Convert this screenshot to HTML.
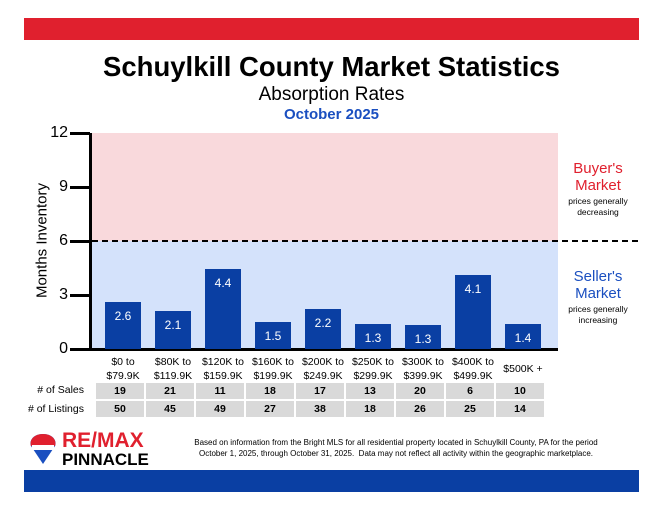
<!DOCTYPE html><html><head><style>
body{margin:0;width:663px;height:512px;background:#fff;font-family:"Liberation Sans",sans-serif;position:relative;overflow:hidden}
.a{position:absolute}
.bar{position:absolute;background:#0a3fa3;width:36px;color:#fff;font-size:12px;text-align:center;padding-top:7px;box-sizing:border-box}
.lb{position:absolute;width:56px;text-align:center;font-size:10.5px;line-height:14px}
.c{position:absolute;width:48px;height:16px;background:#d9d9d9;font-size:10.5px;font-weight:bold;text-align:center;line-height:16px}
</style></head><body>
<div class="a" style="left:24px;top:18px;width:615px;height:22px;background:#e0202e"></div>
<div class="a" style="left:0;width:663px;top:51px;text-align:center;font-size:27.5px;font-weight:bold">Schuylkill County Market Statistics</div>
<div class="a" style="left:0;width:663px;top:84px;text-align:center;font-size:19px">Absorption Rates</div>
<div class="a" style="left:0;width:663px;top:106px;text-align:center;font-size:15px;font-weight:bold;color:#1a4fc0">October 2025</div>
<div class="a" style="left:92px;top:133px;width:466px;height:108px;background:#f9d9dc"></div>
<div class="a" style="left:92px;top:241px;width:466px;height:108px;background:#d4e2fb"></div>
<div class="a" style="left:92px;top:240px;width:546px;border-top:2px dashed #000"></div>
<div class="a" style="left:89px;top:133px;width:3px;height:218px;background:#000"></div>
<div class="a" style="left:70px;top:348px;width:488px;height:3px;background:#000"></div>
<div class="a" style="left:70px;top:132px;width:20px;height:3px;background:#000"></div>
<div class="a" style="left:70px;top:186px;width:20px;height:3px;background:#000"></div>
<div class="a" style="left:70px;top:240px;width:20px;height:3px;background:#000"></div>
<div class="a" style="left:70px;top:294px;width:20px;height:3px;background:#000"></div>
<div class="a" style="left:46px;top:124px;width:22px;text-align:right;font-size:16px">12</div>
<div class="a" style="left:46px;top:178px;width:22px;text-align:right;font-size:16px">9</div>
<div class="a" style="left:46px;top:232px;width:22px;text-align:right;font-size:16px">6</div>
<div class="a" style="left:46px;top:286px;width:22px;text-align:right;font-size:16px">3</div>
<div class="a" style="left:46px;top:340px;width:22px;text-align:right;font-size:16px">0</div>
<div class="a" style="left:-18px;top:232px;width:120px;text-align:center;font-size:15px;transform:rotate(-90deg)">Months Inventory</div>
<div class="bar" style="left:105px;top:302px;height:47px">2.6</div>
<div class="bar" style="left:155px;top:311px;height:38px">2.1</div>
<div class="bar" style="left:205px;top:269px;height:80px">4.4</div>
<div class="bar" style="left:255px;top:322px;height:27px">1.5</div>
<div class="bar" style="left:305px;top:309px;height:40px">2.2</div>
<div class="bar" style="left:355px;top:324px;height:25px">1.3</div>
<div class="bar" style="left:405px;top:325px;height:24px">1.3</div>
<div class="bar" style="left:455px;top:275px;height:74px">4.1</div>
<div class="bar" style="left:505px;top:324px;height:25px">1.4</div>
<div class="lb" style="left:95px;top:355px">$0 to<br>$79.9K</div>
<div class="lb" style="left:145px;top:355px">$80K to<br>$119.9K</div>
<div class="lb" style="left:195px;top:355px">$120K to<br>$159.9K</div>
<div class="lb" style="left:245px;top:355px">$160K to<br>$199.9K</div>
<div class="lb" style="left:295px;top:355px">$200K to<br>$249.9K</div>
<div class="lb" style="left:345px;top:355px">$250K to<br>$299.9K</div>
<div class="lb" style="left:395px;top:355px">$300K to<br>$399.9K</div>
<div class="lb" style="left:445px;top:355px">$400K to<br>$499.9K</div>
<div class="lb" style="left:495px;top:362px">$500K +</div>
<div class="a" style="left:20px;top:384px;width:64px;text-align:right;font-size:10.5px">#&nbsp;of Sales</div>
<div class="a" style="left:10px;top:403px;width:74px;text-align:right;font-size:10.5px"># of Listings</div>
<div class="c" style="left:96px;top:383px">19</div><div class="c" style="left:146px;top:383px">21</div><div class="c" style="left:196px;top:383px">11</div><div class="c" style="left:246px;top:383px">18</div><div class="c" style="left:296px;top:383px">17</div><div class="c" style="left:346px;top:383px">13</div><div class="c" style="left:396px;top:383px">20</div><div class="c" style="left:446px;top:383px">6</div><div class="c" style="left:496px;top:383px">10</div>
<div class="c" style="left:96px;top:401px">50</div><div class="c" style="left:146px;top:401px">45</div><div class="c" style="left:196px;top:401px">49</div><div class="c" style="left:246px;top:401px">27</div><div class="c" style="left:296px;top:401px">38</div><div class="c" style="left:346px;top:401px">18</div><div class="c" style="left:396px;top:401px">26</div><div class="c" style="left:446px;top:401px">25</div><div class="c" style="left:496px;top:401px">14</div>
<div class="a" style="left:558px;top:160px;width:80px;text-align:center;color:#e0202e;font-size:15px;line-height:17px">Buyer's<br>Market</div>
<div class="a" style="left:558px;top:196px;width:80px;text-align:center;font-size:8.5px;line-height:11px">prices generally<br>decreasing</div>
<div class="a" style="left:558px;top:268px;width:80px;text-align:center;color:#1a4fc0;font-size:15px;line-height:17px">Seller's<br>Market</div>
<div class="a" style="left:558px;top:304px;width:80px;text-align:center;font-size:8.5px;line-height:11px">prices generally<br>increasing</div>
<svg class="a" style="left:28px;top:432px" width="30" height="36"><path d="M15 2 C4 2 1 10 3 14 L15 32 L27 14 C29 10 26 2 15 2Z" fill="#1a4fc0"/><path d="M3 14 C1 8 6 2 15 2 C24 2 29 8 27 14Z" fill="#e0202e"/><rect x="4" y="13" width="22" height="5" fill="#fff"/></svg>
<div class="a" style="left:62px;top:430px;font-size:21px;font-weight:bold;color:#e0202e;line-height:22px">RE/MAX</div>
<div class="a" style="left:62px;top:451px;font-size:17px;font-weight:bold;line-height:18px">PINNACLE</div>
<div class="a" style="left:156px;top:437px;font-size:8px;line-height:11px;width:480px;text-align:center">Based on information from the Bright MLS for all residential property located in Schuylkill County, PA for the period<br>October 1, 2025, through October 31, 2025.&nbsp; Data may not reflect all activity within the geographic marketplace.</div>
<div class="a" style="left:24px;top:470px;width:615px;height:22px;background:#0a3fa3"></div>
</body></html>
